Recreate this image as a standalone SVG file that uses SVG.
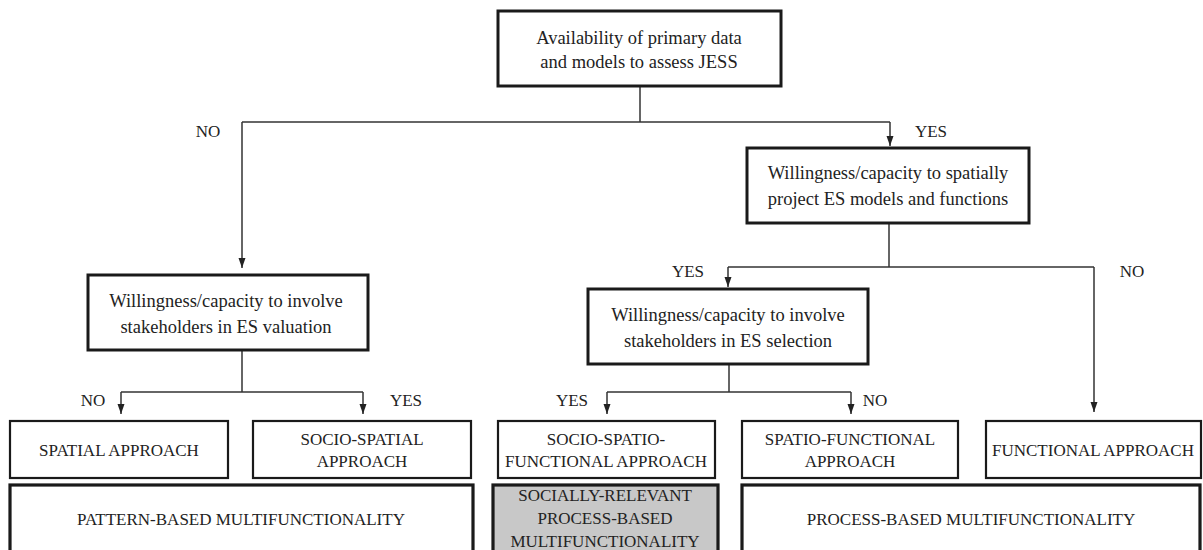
<svg xmlns="http://www.w3.org/2000/svg" width="1203" height="550" viewBox="0 0 1203 550">
<defs>
<style>
.q{fill:#fff;stroke:#1a1a1a;stroke-width:3}
.a{fill:#fff;stroke:#1a1a1a;stroke-width:2.2}
.b{fill:#fff;stroke:#1a1a1a;stroke-width:3.2}
.g{fill:#c8c8c8;stroke:#1a1a1a;stroke-width:3.2}
.t{font-family:"Liberation Serif","Times New Roman",serif;font-size:18.5px;fill:#222;text-anchor:middle}
.u{font-family:"Liberation Serif","Times New Roman",serif;font-size:17px;fill:#222;text-anchor:middle}
.l{font-family:"Liberation Serif","Times New Roman",serif;font-size:17px;fill:#222;text-anchor:middle}
.c{fill:none;stroke:#333;stroke-width:1.5}
</style>
<marker id="arr" viewBox="0 0 10 10" refX="10" refY="5" markerWidth="10" markerHeight="10" markerUnits="userSpaceOnUse" orient="auto">
<path d="M0,1.5 L10,5 L0,8.5 Z" fill="#222"/>
</marker>
</defs>
<g id="connectors">
<path class="c" d="M640,86 V122"/>
<path class="c" d="M242,122 H890"/>
<path class="c" d="M242,122 V268" marker-end="url(#arr)"/>
<path class="c" d="M890,122 V146" marker-end="url(#arr)"/>
<path class="c" d="M889,223 V267"/>
<path class="c" d="M728,267 H1094"/>
<path class="c" d="M728,267 V287" marker-end="url(#arr)"/>
<path class="c" d="M1094,267 V412" marker-end="url(#arr)"/>
<path class="c" d="M729,364 V392"/>
<path class="c" d="M607,392 H851"/>
<path class="c" d="M607,392 V414" marker-end="url(#arr)"/>
<path class="c" d="M851,392 V414" marker-end="url(#arr)"/>
<path class="c" d="M242,350 V392"/>
<path class="c" d="M121,392 H363"/>
<path class="c" d="M121,392 V414" marker-end="url(#arr)"/>
<path class="c" d="M363,392 V414" marker-end="url(#arr)"/>
<text class="l" x="208" y="137">NO</text>
<text class="l" x="931" y="137">YES</text>
<text class="l" x="688" y="277">YES</text>
<text class="l" x="1132" y="277">NO</text>
<text class="l" x="93" y="406">NO</text>
<text class="l" x="406" y="406">YES</text>
<text class="l" x="572" y="406">YES</text>
<text class="l" x="875" y="406">NO</text>
</g>
<g id="n-availability">
<rect class="q" x="498" y="11" width="283" height="75"/>
<text class="t" x="639" y="44">Availability of primary data</text>
<text class="t" x="639" y="68">and models to assess JESS</text>
</g>
<g id="n-spatially">
<rect class="q" x="747" y="148" width="282" height="75"/>
<text class="t" x="888" y="179">Willingness/capacity to spatially</text>
<text class="t" x="888" y="205">project ES models and functions</text>
</g>
<g id="n-valuation">
<rect class="q" x="88" y="275" width="280" height="75"/>
<text class="t" x="226" y="307">Willingness/capacity to involve</text>
<text class="t" x="226" y="333">stakeholders in ES valuation</text>
</g>
<g id="n-selection">
<rect class="q" x="588" y="289" width="280" height="75"/>
<text class="t" x="728" y="321">Willingness/capacity to involve</text>
<text class="t" x="728" y="347">stakeholders in ES selection</text>
</g>
<g id="n-spatial">
<rect class="a" x="10" y="421" width="218" height="57"/>
<text class="u" x="119" y="456">SPATIAL APPROACH</text>
</g>
<g id="n-socio-spatial">
<rect class="a" x="253" y="421" width="218" height="57"/>
<text class="u" x="362" y="445">SOCIO-SPATIAL</text>
<text class="u" x="362" y="467">APPROACH</text>
</g>
<g id="n-socio-spatio-functional">
<rect class="a" x="498" y="421" width="217" height="57"/>
<text class="u" x="606" y="445">SOCIO-SPATIO-</text>
<text class="u" x="606" y="467">FUNCTIONAL APPROACH</text>
</g>
<g id="n-spatio-functional">
<rect class="a" x="742" y="421" width="216" height="57"/>
<text class="u" x="850" y="445">SPATIO-FUNCTIONAL</text>
<text class="u" x="850" y="467">APPROACH</text>
</g>
<g id="n-functional">
<rect class="a" x="986" y="421" width="215" height="57"/>
<text class="u" x="1093" y="456">FUNCTIONAL APPROACH</text>
</g>
<g id="n-pattern">
<rect class="b" x="10" y="485" width="463" height="80"/>
<text class="u" x="241" y="525">PATTERN-BASED MULTIFUNCTIONALITY</text>
</g>
<g id="n-socially">
<rect class="g" x="493" y="485" width="225" height="80"/>
<text class="u" x="605" y="501">SOCIALLY-RELEVANT</text>
<text class="u" x="605" y="524">PROCESS-BASED</text>
<text class="u" x="605" y="547">MULTIFUNCTIONALITY</text>
</g>
<g id="n-process">
<rect class="b" x="742" y="485" width="458" height="80"/>
<text class="u" x="971" y="525">PROCESS-BASED MULTIFUNCTIONALITY</text>
</g>
</svg>
